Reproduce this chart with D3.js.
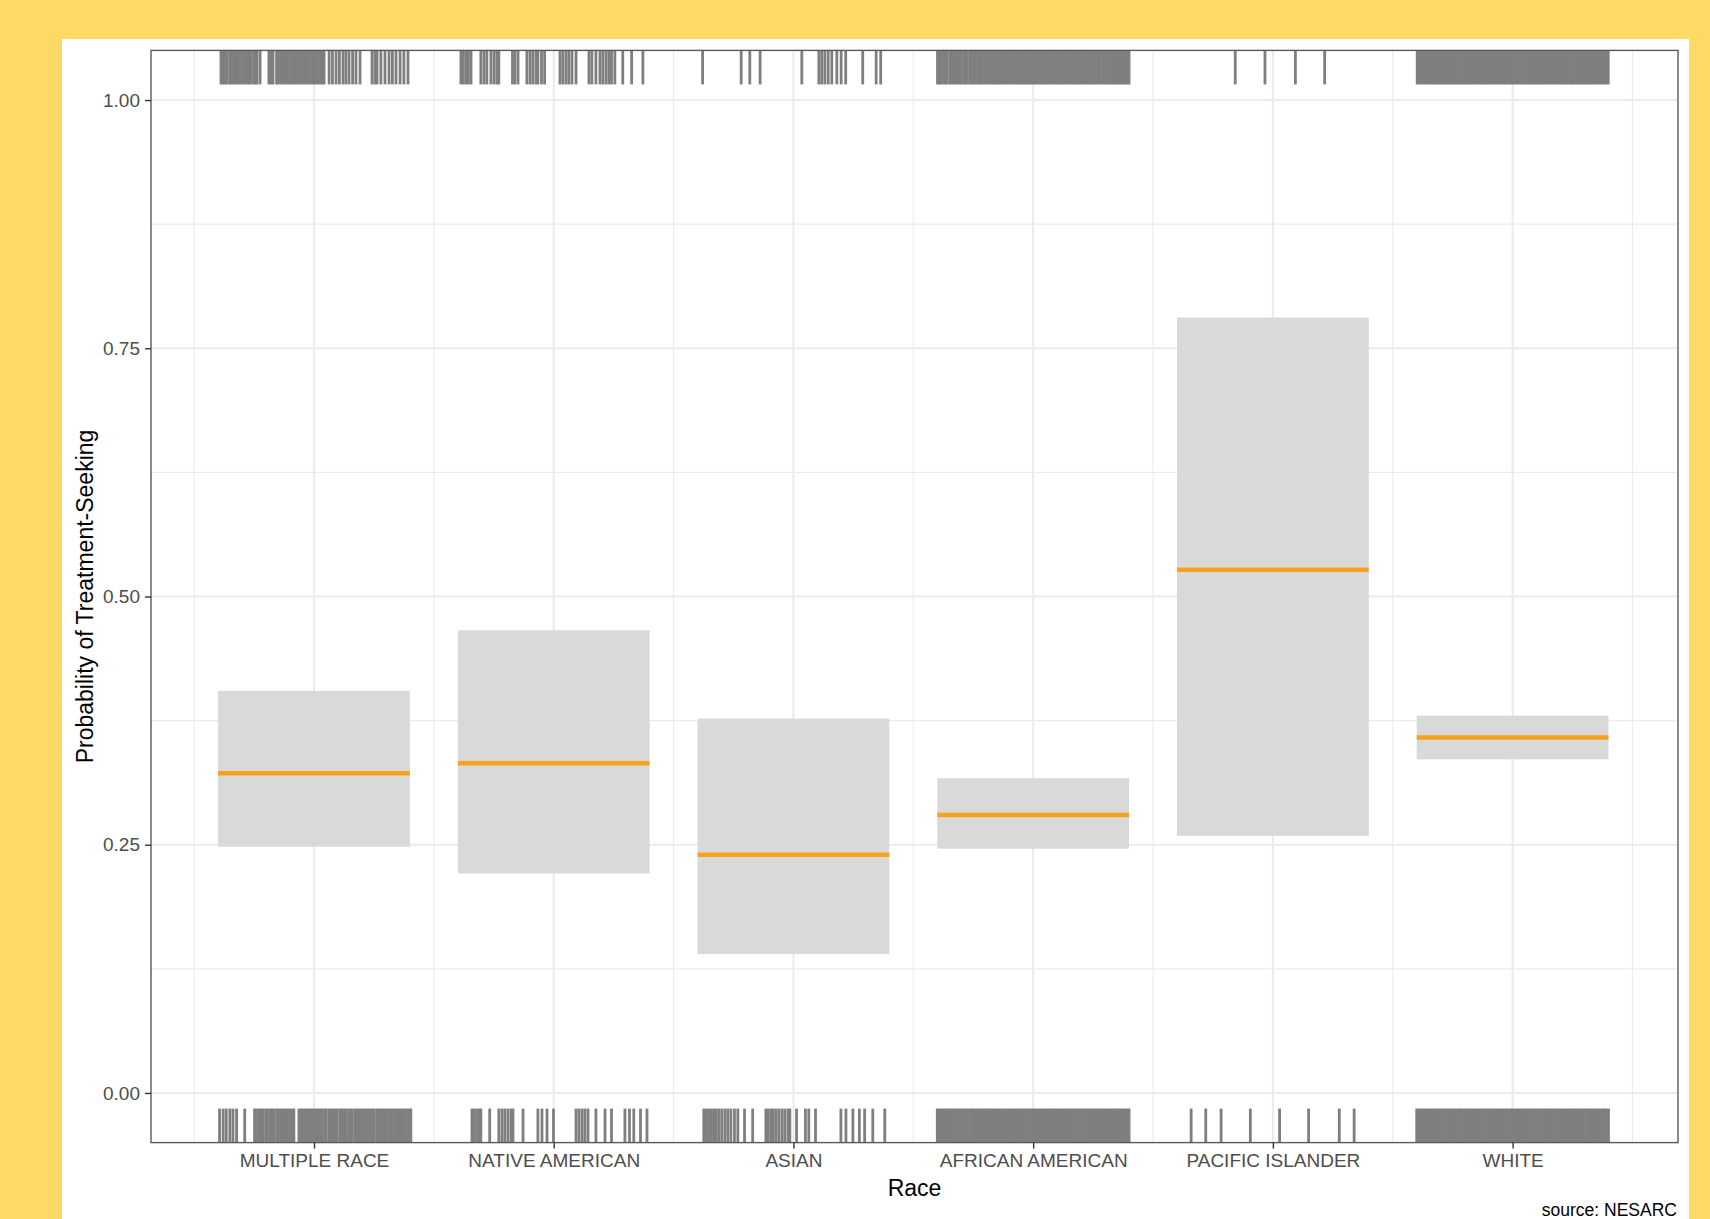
<!DOCTYPE html>
<html>
<head>
<meta charset="utf-8">
<script src="https://cdn.jsdelivr.net/npm/d3@7"></script>
<style>
  html, body { margin: 0; padding: 0; background: #FFD966; }
  svg { display: block; }
  text { font-family: "Liberation Sans", Arial, Helvetica, sans-serif; }
</style>
</head>
<body>
<svg id="chart" width="1710" height="1219"></svg>
<script>
// Race categories along the x axis
const races = ["MULTIPLE RACE", "NATIVE AMERICAN", "ASIAN", "AFRICAN AMERICAN", "PACIFIC ISLANDER", "WHITE"];

// Predicted probability of treatment-seeking and its interval, per race
const estimate = [0.322, 0.332, 0.240, 0.280, 0.527, 0.358];
const lower    = [0.248, 0.221, 0.140, 0.246, 0.259, 0.336];
const upper    = [0.405, 0.466, 0.377, 0.317, 0.781, 0.380];

// Axis ticks
const yTicks = [0, 0.25, 0.5, 0.75, 1];
const yMinorTicks = [0.125, 0.375, 0.625, 0.875];
const yTickLabels = ["0.00", "0.25", "0.50", "0.75", "1.00"];
const xMinorTicks = [0.5, 1.5, 2.5, 3.5, 4.5, 5.5, 6.5];

// Jittered horizontal offsets of respondents who sought treatment (outcome = 1, top rug)
const rugTopMultiple = [-0.388, -0.379, -0.371, -0.363, -0.352, -0.344, -0.334, -0.325, -0.317, -0.307, -0.298, -0.288, -0.279, -0.271, -0.263, -0.252, -0.244, -0.238,
  -0.225, -0.188, -0.179, -0.171,
  -0.156, -0.148, -0.138, -0.129, -0.121, -0.111, -0.102, -0.092, -0.083, -0.075, -0.065, -0.056, -0.046, -0.038, -0.029, -0.019, -0.010, 0.000, 0.008, 0.017, 0.027, 0.035, 0.042,
  0.063, 0.077, 0.092, 0.106, 0.121, 0.133, 0.146, 0.161, 0.175, 0.192,
  0.242, 0.254, 0.263,
  0.279, 0.296, 0.313, 0.327, 0.342, 0.359, 0.375, 0.392];
const rugTopNative = [-0.387, -0.377, -0.366, -0.356, -0.345, -0.304, -0.291, -0.279, -0.262, -0.249, -0.237, -0.229,
  -0.172, -0.162, -0.149, -0.112, -0.099, -0.087, -0.074, -0.066, -0.051, -0.038,
  0.026, 0.038, 0.051, 0.063, 0.076, 0.093, 0.147, 0.159, 0.176, 0.193, 0.205, 0.218, 0.230, 0.241,
  0.255, 0.288, 0.325, 0.372];
const rugTopAsian = [-0.379, -0.218, -0.182, -0.139, 0.035, 0.106, 0.118, 0.131, 0.145, 0.160, 0.181, 0.199, 0.218, 0.289, 0.345, 0.364];
const rugTopAfrican = [-0.399, -0.391, -0.384, -0.374, -0.366, -0.359, -0.348, -0.341, -0.333, -0.324, -0.316, -0.307, -0.300, -0.290, -0.283, -0.275, -0.265, -0.258, -0.249, -0.241,
  -0.232, -0.224, -0.216, -0.207, -0.199, -0.190, -0.182, -0.173, -0.166, -0.157, -0.149, -0.140, -0.132, -0.124, -0.115, -0.107, -0.098, -0.091, -0.082, -0.073,
  -0.066, -0.057, -0.049, -0.041, -0.032, -0.024, -0.015, -0.008, 0.001, 0.009, 0.018, 0.026, 0.034, 0.043, 0.051, 0.059, 0.068, 0.076, 0.085, 0.093,
  0.101, 0.110, 0.118, 0.126, 0.135, 0.143, 0.152, 0.160, 0.168, 0.177, 0.185, 0.193, 0.202, 0.210, 0.219, 0.227, 0.235, 0.244, 0.252, 0.260,
  0.269, 0.277, 0.286, 0.294, 0.302, 0.311, 0.319, 0.327, 0.336, 0.344, 0.353, 0.361, 0.369, 0.378, 0.386, 0.394, 0.400];
const rugTopPacific = [-0.157, -0.033, 0.094, 0.216];
const rugTopWhite = [-0.398, -0.390, -0.383, -0.373, -0.365, -0.357, -0.349, -0.340, -0.332, -0.324, -0.316, -0.308, -0.299, -0.291, -0.283, -0.275, -0.267, -0.258, -0.250, -0.242,
  -0.234, -0.226, -0.217, -0.209, -0.201, -0.193, -0.185, -0.176, -0.168, -0.160, -0.152, -0.144, -0.135, -0.127, -0.119, -0.111, -0.103, -0.094, -0.086, -0.078,
  -0.070, -0.062, -0.053, -0.045, -0.037, -0.029, -0.021, -0.012, -0.004, 0.004, 0.012, 0.021, 0.029, 0.037, 0.045, 0.053, 0.062, 0.070, 0.078, 0.086,
  0.094, 0.103, 0.111, 0.119, 0.127, 0.135, 0.144, 0.152, 0.160, 0.168, 0.176, 0.185, 0.193, 0.201, 0.209, 0.217, 0.226, 0.234, 0.242, 0.250,
  0.258, 0.267, 0.275, 0.283, 0.291, 0.299, 0.308, 0.316, 0.324, 0.332, 0.340, 0.349, 0.357, 0.365, 0.373, 0.381, 0.390, 0.399];

// Jittered horizontal offsets of respondents who did not seek treatment (outcome = 0, bottom rug)
const rugBottomMultiple = [-0.394, -0.379, -0.366, -0.351, -0.338, -0.323, -0.289,
  -0.248, -0.240, -0.229, -0.221, -0.213, -0.202, -0.194, -0.183, -0.175, -0.167, -0.156, -0.148, -0.138, -0.129, -0.121, -0.111, -0.102, -0.092, -0.084,
  -0.063, -0.055, -0.047, -0.036, -0.029, -0.019, -0.011, -0.002, 0.007, 0.016, 0.026, 0.034, 0.044, 0.051, 0.062, 0.070, 0.080, 0.089, 0.097, 0.108,
  0.115, 0.125, 0.133, 0.144, 0.152, 0.160, 0.171, 0.178, 0.189, 0.197, 0.206, 0.215, 0.224, 0.233, 0.243, 0.250, 0.261, 0.269, 0.278, 0.287,
  0.296, 0.305, 0.315, 0.323, 0.332, 0.341, 0.351, 0.359, 0.368, 0.377, 0.386, 0.395, 0.404];
const rugBottomNative = [-0.341, -0.333, -0.322, -0.311, -0.304, -0.267, -0.229, -0.216, -0.204, -0.191, -0.178, -0.170, -0.128,
  -0.066, -0.049, -0.028, -0.001, 0.093, 0.105, 0.118, 0.130, 0.143, 0.176, 0.214, 0.241, 0.297, 0.316, 0.334, 0.362, 0.389];
const rugBottomAsian = [-0.374, -0.363, -0.353, -0.342, -0.332, -0.322, -0.311, -0.299, -0.286, -0.274, -0.261, -0.246, -0.232,
  -0.204, -0.170, -0.115, -0.105, -0.094, -0.084, -0.073, -0.061, -0.048, -0.036, -0.023, -0.015,
  0.013, 0.050, 0.064, 0.092, 0.198, 0.219, 0.248, 0.275, 0.297, 0.331, 0.381];
const rugBottomAfrican = [-0.400, -0.393, -0.385, -0.376, -0.369, -0.360, -0.352, -0.343, -0.335, -0.328, -0.319, -0.311, -0.302, -0.294, -0.287, -0.278, -0.270, -0.261, -0.253, -0.246,
  -0.237, -0.229, -0.220, -0.212, -0.205, -0.196, -0.188, -0.179, -0.171, -0.164, -0.155, -0.147, -0.138, -0.130, -0.123, -0.114, -0.106, -0.097, -0.089, -0.082,
  -0.073, -0.065, -0.056, -0.048, -0.041, -0.032, -0.024, -0.015, -0.007, 0.000, 0.009, 0.017, 0.026, 0.034, 0.041, 0.050, 0.058, 0.067, 0.075, 0.082,
  0.091, 0.099, 0.108, 0.116, 0.123, 0.132, 0.140, 0.149, 0.157, 0.164, 0.173, 0.181, 0.190, 0.198, 0.205, 0.214, 0.222, 0.231, 0.239, 0.246,
  0.255, 0.263, 0.272, 0.280, 0.287, 0.296, 0.304, 0.313, 0.321, 0.328, 0.337, 0.345, 0.354, 0.362, 0.369, 0.378, 0.386, 0.395, 0.400];
const rugBottomPacific = [-0.341, -0.280, -0.216, -0.094, 0.028, 0.149, 0.277, 0.339];
const rugBottomWhite = [-0.400, -0.392, -0.386, -0.377, -0.368, -0.361, -0.353, -0.344, -0.337, -0.329, -0.320, -0.313, -0.305, -0.296, -0.289, -0.281, -0.272, -0.265, -0.257, -0.248,
  -0.241, -0.233, -0.224, -0.217, -0.209, -0.200, -0.193, -0.185, -0.176, -0.169, -0.161, -0.152, -0.145, -0.137, -0.128, -0.121, -0.113, -0.104, -0.097, -0.089,
  -0.080, -0.073, -0.065, -0.056, -0.049, -0.041, -0.032, -0.025, -0.017, -0.008, -0.001, 0.007, 0.016, 0.023, 0.031, 0.040, 0.047, 0.055, 0.064, 0.071,
  0.079, 0.088, 0.095, 0.103, 0.112, 0.119, 0.127, 0.136, 0.143, 0.151, 0.160, 0.167, 0.175, 0.184, 0.191, 0.199, 0.208, 0.215, 0.223, 0.232,
  0.239, 0.247, 0.256, 0.263, 0.271, 0.280, 0.287, 0.295, 0.304, 0.311, 0.319, 0.328, 0.335, 0.343, 0.352, 0.359, 0.367, 0.376, 0.383, 0.391, 0.400];

const rugTop = [rugTopMultiple, rugTopNative, rugTopAsian, rugTopAfrican, rugTopPacific, rugTopWhite];
const rugBottom = [rugBottomMultiple, rugBottomNative, rugBottomAsian, rugBottomAfrican, rugBottomPacific, rugBottomWhite];

// ---- layout ----
const W = 1710, H = 1219;
const card = { x: 62, y: 39, w: 1627, h: H - 39 + 20 };
const panel = { left: 151, right: 1678, top: 50.4, bottom: 1142.6 };
const halfWidth = 0.4;
const rugLen = 34;
const tickFont = "19px";
const titleFont = "23px";

const svg = d3.select("#chart");

svg.append("rect").attr("x", 0).attr("y", 0).attr("width", W).attr("height", H).attr("fill", "#FFD966");
svg.append("rect").attr("x", card.x).attr("y", card.y).attr("width", card.w).attr("height", card.h).attr("fill", "#ffffff");

const x = d3.scaleLinear().domain([0.32, 6.69]).range([panel.left, panel.right]);
const y = d3.scaleLinear().domain([-0.05, 1.05]).range([panel.bottom, panel.top]);

// Grid
const grid = svg.append("g");
grid.selectAll("line.ymin").data(yMinorTicks).join("line")
  .attr("x1", panel.left).attr("x2", panel.right)
  .attr("y1", d => y(d)).attr("y2", d => y(d))
  .attr("stroke", "#EBEBEB").attr("stroke-width", 1.1);
grid.selectAll("line.xmin").data(xMinorTicks).join("line")
  .attr("y1", panel.top).attr("y2", panel.bottom)
  .attr("x1", d => x(d)).attr("x2", d => x(d))
  .attr("stroke", "#EBEBEB").attr("stroke-width", 1.1);
grid.selectAll("line.ymaj").data(yTicks).join("line")
  .attr("x1", panel.left).attr("x2", panel.right)
  .attr("y1", d => y(d)).attr("y2", d => y(d))
  .attr("stroke", "#EBEBEB").attr("stroke-width", 2);
grid.selectAll("line.xmaj").data(races.map((r, i) => i + 1)).join("line")
  .attr("y1", panel.top).attr("y2", panel.bottom)
  .attr("x1", d => x(d)).attr("x2", d => x(d))
  .attr("stroke", "#EBEBEB").attr("stroke-width", 2);

// Interval boxes
const rows = races.map((r, i) => ({ race: r, pos: i + 1, est: estimate[i], lo: lower[i], hi: upper[i] }));
svg.append("g").selectAll("rect").data(rows).join("rect")
  .attr("x", d => x(d.pos - halfWidth))
  .attr("width", d => x(d.pos + halfWidth) - x(d.pos - halfWidth))
  .attr("y", d => y(d.hi))
  .attr("height", d => y(d.lo) - y(d.hi))
  .attr("fill", "#D9D9D9");

// Point estimates
svg.append("g").selectAll("line").data(rows).join("line")
  .attr("x1", d => x(d.pos - halfWidth)).attr("x2", d => x(d.pos + halfWidth))
  .attr("y1", d => y(d.est)).attr("y2", d => y(d.est))
  .attr("stroke", "#F5A31F").attr("stroke-width", 4.5);

// Rugs
const topMarks = [], bottomMarks = [];
rugTop.forEach((arr, i) => arr.forEach(o => topMarks.push(i + 1 + o)));
rugBottom.forEach((arr, i) => arr.forEach(o => bottomMarks.push(i + 1 + o)));
const rug = svg.append("g").attr("stroke", "#7F7F7F").attr("stroke-width", 2.8);
rug.selectAll("line.t").data(topMarks).join("line")
  .attr("x1", d => x(d)).attr("x2", d => x(d))
  .attr("y1", panel.top).attr("y2", panel.top + rugLen);
rug.selectAll("line.b").data(bottomMarks).join("line")
  .attr("x1", d => x(d)).attr("x2", d => x(d))
  .attr("y1", panel.bottom - rugLen).attr("y2", panel.bottom);

// Panel border
svg.append("rect")
  .attr("x", panel.left).attr("y", panel.top)
  .attr("width", panel.right - panel.left).attr("height", panel.bottom - panel.top)
  .attr("fill", "none").attr("stroke", "#5a5a5a").attr("stroke-width", 1.4);

// Axes
const yAxis = svg.append("g").attr("transform", `translate(${panel.left},0)`)
  .call(d3.axisLeft(y).tickValues(yTicks).tickFormat((d, i) => yTickLabels[i]).tickSize(6).tickPadding(5));
const xAxis = svg.append("g").attr("transform", `translate(0,${panel.bottom})`)
  .call(d3.axisBottom(x).tickValues(rows.map(d => d.pos)).tickFormat((d, i) => races[i]).tickSize(6).tickPadding(5));
[yAxis, xAxis].forEach(g => {
  g.select(".domain").remove();
  g.selectAll(".tick line").attr("stroke", "#333333").attr("stroke-width", 1.4);
  g.selectAll(".tick text").attr("fill", "#4D4D4D").style("font-size", tickFont)
    .style("font-family", "'Liberation Sans', Arial, sans-serif");
});

// Axis titles
svg.append("text")
  .attr("x", (panel.left + panel.right) / 2).attr("y", 1196)
  .attr("text-anchor", "middle").attr("fill", "#000").style("font-size", titleFont)
  .text("Race");
svg.append("text")
  .attr("transform", `translate(93,${(panel.top + panel.bottom) / 2}) rotate(-90)`)
  .attr("text-anchor", "middle").attr("fill", "#000").style("font-size", titleFont)
  .text("Probability of Treatment-Seeking");

// Caption
svg.append("text")
  .attr("x", 1677).attr("y", 1216)
  .attr("text-anchor", "end").attr("fill", "#000").style("font-size", "17.5px")
  .text("source: NESARC");
</script>
</body>
</html>
